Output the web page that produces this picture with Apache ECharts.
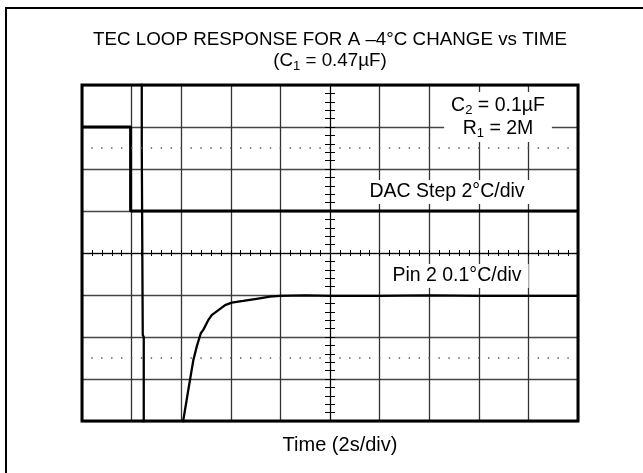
<!DOCTYPE html>
<html>
<head>
<meta charset="utf-8">
<script src="https://cdn.jsdelivr.net/npm/echarts/dist/echarts.min.js"></script>
<style>
    html, body { margin: 0; padding: 0; background: #fff; }
    #chart { width: 643px; height: 473px; }
</style>
</head>
<body>
<div id="chart"></div>
<script>
    // time in seconds (2 s/div, 0 = screen centre), level in divisions
    var dacTime = [-10, -8.04, -8.04, 10];
    var dacLevel = [3, 3, 1, 1];

    var pinTime = [-10, -7.59, -7.59, -7.55, -7.55, -7.51, -7.51, -5.95, -5.915, -5.78, -5.645, -5.51, -5.375,
        -5.21, -5.11, -4.91, -4.77, -4.5, -4.23, -3.96, -3.5, -2.96, -2.42, -2.02, -1, 0, 2, 4, 6, 8, 10];
    var pinLevel = [5, 5, 2.52, 2.5, -1.95, -2, -5, -5, -3.98, -3.5, -3.02, -2.55, -2.23,
        -1.91, -1.83, -1.6, -1.48, -1.36, -1.24, -1.18, -1.14, -1.09, -1.04, -1.02, -1.01, -1.02, -1.02, -1.01, -1.02, -1.02, -1.02];

    // dotted rise-time lines of the graticule
    var dottedLevels = [2.5, -2.5];

    var FONT = '"Liberation Sans", Arial, Helvetica, sans-serif';

    function zip(xs, ys) {
        return xs.map(function (x, i) { return [x, ys[i]]; });
    }

    function label(x, y, text, size, withBox) {
        return {
            type: 'text',
            x: x,
            y: y,
            z: 50,
            style: {
                text: text,
                fill: '#000',
                fontSize: size,
                fontFamily: FONT,
                align: 'center',
                textAlign: 'center',
                verticalAlign: 'middle',
                textVerticalAlign: 'middle',
                backgroundColor: withBox ? '#fff' : 'transparent',
                padding: withBox ? [2, 7] : 0,
                rich: {
                    n: { fontSize: size, fontFamily: FONT, lineHeight: 23, fill: '#000' },
                    s: { fontSize: 13, fontFamily: FONT, lineHeight: 12, verticalAlign: 'bottom', fill: '#000' }
                }
            }
        };
    }

    function centreXAxis(inside) {
        return {
            type: 'value', min: -10, max: 10, interval: 0.4,
            axisLine: { show: true, onZero: true, onZeroAxisIndex: 0, lineStyle: { color: '#000', width: 1 } },
            axisTick: { show: true, inside: inside, length: 3, lineStyle: { color: '#000', width: 1 } },
            axisLabel: { show: false },
            splitLine: { show: false }
        };
    }

    function centreYAxis(inside) {
        return {
            type: 'value', min: -4, max: 4, interval: 0.2,
            axisLine: { show: true, onZero: true, onZeroAxisIndex: 0, lineStyle: { color: '#000', width: 1 } },
            axisTick: { show: true, inside: inside, length: 5, lineStyle: { color: '#000', width: 1 } },
            axisLabel: { show: false },
            splitLine: { show: false }
        };
    }

    var option = {
        animation: false,
        backgroundColor: '#fff',
        grid: { left: 82, top: 85, width: 496, height: 336, containLabel: false },
        xAxis: [
            {
                type: 'value', min: -10, max: 10, interval: 2,
                axisLine: { show: false, onZero: false },
                axisTick: { show: false },
                axisLabel: { show: false },
                splitLine: { show: true, lineStyle: { color: '#333', width: 1.3 } }
            },
            centreXAxis(true),
            centreXAxis(false)
        ],
        yAxis: [
            {
                type: 'value', min: -4, max: 4, interval: 1,
                axisLine: { show: false, onZero: false },
                axisTick: { show: false },
                axisLabel: { show: false },
                splitLine: { show: true, lineStyle: { color: '#444', width: 1.3 } }
            },
            centreYAxis(true),
            centreYAxis(false)
        ],
        series: [
            {
                name: 'DAC Step',
                type: 'line',
                data: zip(dacTime, dacLevel),
                showSymbol: false,
                lineStyle: { color: '#000', width: 3 },
                markLine: {
                    silent: true,
                    symbol: 'none',
                    label: { show: false },
                    lineStyle: { color: '#555', width: 1.5, type: [1.4, 8.52], dashOffset: 0.7 },
                    data: dottedLevels.map(function (v) { return { yAxis: v }; })
                }
            },
            {
                name: 'Pin 2',
                type: 'line',
                data: zip(pinTime, pinLevel),
                showSymbol: false,
                lineStyle: { color: '#000', width: 2.3 }
            }
        ],
        graphic: [
            {
                type: 'rect', z: 0, silent: true,
                shape: { x: 6, y: 8, width: 700, height: 500 },
                style: { fill: 'none', stroke: '#000', lineWidth: 2 }
            },
            {
                type: 'rect', z: 60, silent: true,
                shape: { x: 82, y: 85, width: 496, height: 336 },
                style: { fill: 'none', stroke: '#000', lineWidth: 3 }
            },
            label(330, 40, 'TEC LOOP RESPONSE FOR A \u20134\u00b0C CHANGE vs TIME', 18.8, false),
            label(330, 61, '{n|(C}{s|1}{n| = 0.47\u00b5F)}', 18.8, false),
            label(498, 117, '{n|C}{s|2}{n| = 0.1\u00b5F}\n{n|R}{s|1}{n| = 2M}', 19.5, true),
            label(447, 192, 'DAC Step 2\u00b0C/div', 19.5, true),
            label(457, 276, 'Pin 2 0.1\u00b0C/div', 19.5, true),
            label(340, 445, 'Time (2s/div)', 20, false)
        ]
    };

    var myChart = echarts.init(document.getElementById('chart'));
    myChart.setOption(option);
</script>
</body>
</html>
